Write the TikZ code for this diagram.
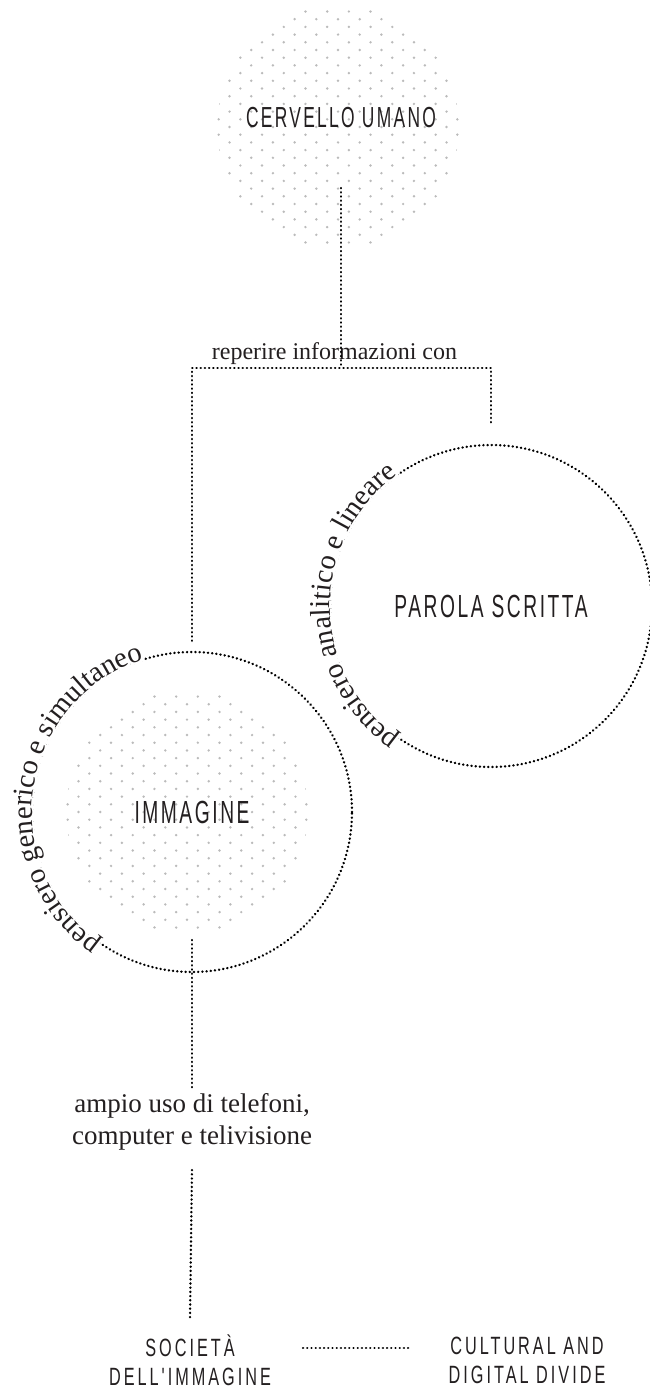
\documentclass[tikz,border=0pt]{standalone}
\usepackage{fontspec}
\setmainfont{Liberation Serif}
\newfontfamily\deco[FakeStretch=0.6,LetterSpace=8]{Liberation Sans}
\newfontfamily\decosmall[FakeStretch=0.65,LetterSpace=12]{Liberation Sans}
\usetikzlibrary{calc,decorations.text}
\definecolor{txt}{HTML}{231F20}
\definecolor{dotgray}{HTML}{BBBBBB}
\newcommand{\curvefont}{\fontsize{28.7}{28.7}\selectfont}
\newcommand{\dotdisk}[3]{%
  \begin{scope}
    \clip (#1,#2) circle (#3);
    \foreach \i in {-16,...,16}{
      \foreach \j in {-6,...,6}{
        \pgfmathsetmacro{\xx}{#1+\j*21.7+mod(abs(\i),2)*10.85}
        \pgfmathsetmacro{\yy}{#2+\i*7.7}
        \fill[dotgray] (\xx,\yy) circle (1.35);
      }}
  \end{scope}}
\begin{document}
\begin{tikzpicture}[x=1pt,y=1pt,
  dotline/.style={draw=black, line width=2.5pt, line cap=round, dash pattern=on 0.2pt off 4pt},
  capbig/.style={text=txt, inner sep=0pt, align=center},
  ring/.style={circle, dotline, inner sep=0pt, text=txt},
  serif/.style={text=txt, inner sep=0pt, align=center},
  curvechar/.style={font=\curvefont, text=txt, fill=white, inner xsep=0pt, inner ysep=1.5pt}]
\useasboundingbox (0,0) rectangle (650,-1389);

% dotted disks
\dotdisk{338}{-127}{121}
\dotdisk{187}{-812}{121}

% nodes
\node[capbig, font=\deco\fontsize{29}{29}\selectfont] (cervello) at (341,-118) {CERVELLO UMANO};
\node[serif, font=\fontsize{24}{24}\selectfont, anchor=base] (reperire) at (334.5,-359) {reperire informazioni con};
\node[ring, minimum size=322pt, font=\deco\fontsize{32}{32}\selectfont] (parola) at (491,-606) {PAROLA SCRITTA};
\node[ring, minimum size=320pt, font=\deco\fontsize{32}{32}\selectfont] (immagine) at (192,-812) {IMMAGINE};
\node[serif, font=\fontsize{27}{32}\selectfont] (ampio) at (192,-1122) {ampio uso di telefoni,\\computer e telivisione};
\node[capbig, font=\decosmall\fontsize{25}{29}\selectfont] (societa) at (190,-1360) {SOCIETÀ\\DELL'IMMAGINE};
\node[capbig, font=\decosmall\fontsize{25}{29}\selectfont] (cultural) at (527,-1360) {CULTURAL AND\\DIGITAL DIVIDE};

% connector corners
\coordinate (split) at (341,-368);
\coordinate (cL) at (192,-368);
\coordinate (cR) at (491,-368);

\draw[dotline] ([yshift=-70pt]cervello.center) -- (split);
\draw[dotline] ([yshift=10pt]immagine.north) -- (cL) -- (cR) -- ([yshift=18pt]parola.north);
\draw[dotline] ([yshift=-128pt]immagine.center) -- ($(ampio.center)+(0,34)$);
\draw[dotline] ($(ampio.center)+(0,-48)$) -- ($(societa.center)+(0,43)$);
\draw[dotline, line width=2.2pt] ($(societa.center)+(113,12)$) -- ($(cultural.center)+(-115,12)$);

% curved texts
\path[decorate, decoration={text effects along path, text={pensiero analitico e lineare},
   text effects/.cd, text along path, every character/.style={curvechar}}]
   ($(parola.center)+(235:161pt)$) arc[start angle=235, delta angle=-160, radius=161pt];
\path[decorate, decoration={text effects along path, text={pensiero generico e simultaneo},
   text effects/.cd, text along path, every character/.style={curvechar}}]
   ($(immagine.center)+(235:160pt)$) arc[start angle=235, delta angle=-170, radius=160pt];
\end{tikzpicture}
\end{document}
